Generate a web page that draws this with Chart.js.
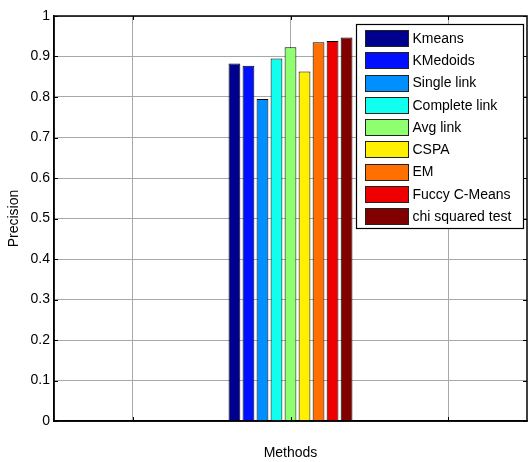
<!DOCTYPE html>
<html lang="en">
<head>
<meta charset="UTF-8">
<title>Precision by method</title>
<style>
  body { margin: 0; background: #fff; }
  #wrap { width: 528px; height: 462px; }
</style>
</head>
<body>
<div id="wrap"><canvas id="chart" width="528" height="462"></canvas></div>
<script src="https://cdn.jsdelivr.net/npm/chart.js"></script>
<script>
const methods = ['Kmeans', 'KMedoids', 'Single link', 'Complete link', 'Avg link', 'CSPA', 'EM', 'Fuccy C-Means', 'chi squared test'];
const precision = [0.883, 0.877, 0.795, 0.895, 0.923, 0.863, 0.935, 0.938, 0.947];
const barColors = ['#00008f', '#0010ff', '#008fff', '#10ffef', '#8fff70', '#ffef00', '#ff7000', '#ef0000', '#800000'];
// three x grid positions, the group of bars sits on the middle one
const xSlots = ['', '', ''];
const groupSlot = 1;
const yTicks = [0, 0.1, 0.2, 0.3, 0.4, 0.5, 0.6, 0.7, 0.8, 0.9, 1];
const yTickLabels = ['0', '0.1', '0.2', '0.3', '0.4', '0.5', '0.6', '0.7', '0.8', '0.9', '1'];

const FONT = '"Liberation Sans", Arial, sans-serif';
const gridColor = '#a8a8a8';

// matlab-ish box: black frame, inward ticks, legend inside top right
const frameAndLegend = {
    id: 'frameAndLegend',
    afterDatasetsDraw(chart) {
        const { ctx, chartArea: a, scales: { x, y } } = chart;
        ctx.save();
        ctx.strokeStyle = '#000';
        ctx.lineWidth = 1;
        ctx.beginPath();
        y.ticks.forEach((t, i) => {
            const py = Math.round(y.getPixelForTick(i)) + 0.5;
            ctx.moveTo(a.left, py); ctx.lineTo(a.left + 4, py);
            ctx.moveTo(a.right, py); ctx.lineTo(a.right - 4, py);
        });
        x.ticks.forEach((t, i) => {
            const px = Math.round(x.getPixelForTick(i)) + 0.5;
            ctx.moveTo(px, a.bottom); ctx.lineTo(px, a.bottom - 4);
            ctx.moveTo(px, a.top); ctx.lineTo(px, a.top + 4);
        });
        ctx.stroke();
        ctx.lineWidth = 1.5;
        ctx.strokeRect(a.left, a.top, a.right - a.left, a.bottom - a.top);

        // legend
        const boxW = 167, boxH = 204;
        const bx = Math.round(a.right - 4 - boxW) + 0.5;
        const by = Math.round(a.top + 8) + 0.5;
        ctx.fillStyle = '#fff';
        ctx.fillRect(bx, by, boxW, boxH);
        ctx.lineWidth = 1.2;
        ctx.strokeStyle = '#000';
        ctx.strokeRect(bx, by, boxW, boxH);
        ctx.font = '14px ' + FONT;
        ctx.textBaseline = 'middle';
        methods.forEach((m, i) => {
            const cy = by + 13.5 + i * 22.25;
            ctx.fillStyle = barColors[i];
            ctx.fillRect(bx + 9, Math.round(cy - 8), 43, 16);
            ctx.lineWidth = 1;
            ctx.strokeStyle = '#222';
            ctx.strokeRect(bx + 9, Math.round(cy - 8) + 0.5, 43, 16);
            ctx.fillStyle = '#000';
            ctx.fillText(m, bx + 56, cy + 1);
        });
        ctx.restore();
    }
};

const ctx = document.getElementById('chart').getContext('2d');
const myChart = new Chart(ctx, {
    type: 'bar',
    data: {
        labels: xSlots,
        datasets: methods.map((m, i) => ({
            label: m,
            data: xSlots.map((_, j) => j === groupSlot ? precision[i] : null),
            backgroundColor: barColors[i],
            borderColor: '#000',
            borderWidth: 1,
            categoryPercentage: 0.8,
            barPercentage: 0.84
        }))
    },
    options: {
        responsive: false,
        animation: false,
        layout: { padding: { top: 16, right: 1, left: 0, bottom: 0 } },
        plugins: {
            legend: { display: false },
            tooltip: { enabled: false }
        },
        scales: {
            x: {
                offset: true,
                grid: { offset: false, color: gridColor, drawTicks: false },
                border: { display: true, color: '#000', width: 1.5 },
                ticks: { display: false },
                title: {
                    display: true,
                    text: 'Methods',
                    color: '#000',
                    font: { family: FONT, size: 14 },
                    padding: 0
                },
                afterFit: s => { s.height = 41; }
            },
            y: {
                min: 0,
                max: 1,
                afterBuildTicks: s => { s.ticks = yTicks.map(v => ({ value: v })); },
                ticks: {
                    padding: 4,
                    color: '#000',
                    font: { family: FONT, size: 14 },
                    callback: (v, i) => yTickLabels[i]
                },
                grid: { color: gridColor, drawTicks: false },
                border: { display: true, color: '#000', width: 1.5 },
                title: {
                    display: true,
                    text: 'Precision',
                    color: '#000',
                    font: { family: FONT, size: 14 },
                    padding: { top: 6, bottom: 0 }
                },
                afterFit: s => { s.width = 54; }
            }
        }
    },
    plugins: [frameAndLegend]
});
</script>
</body>
</html>
